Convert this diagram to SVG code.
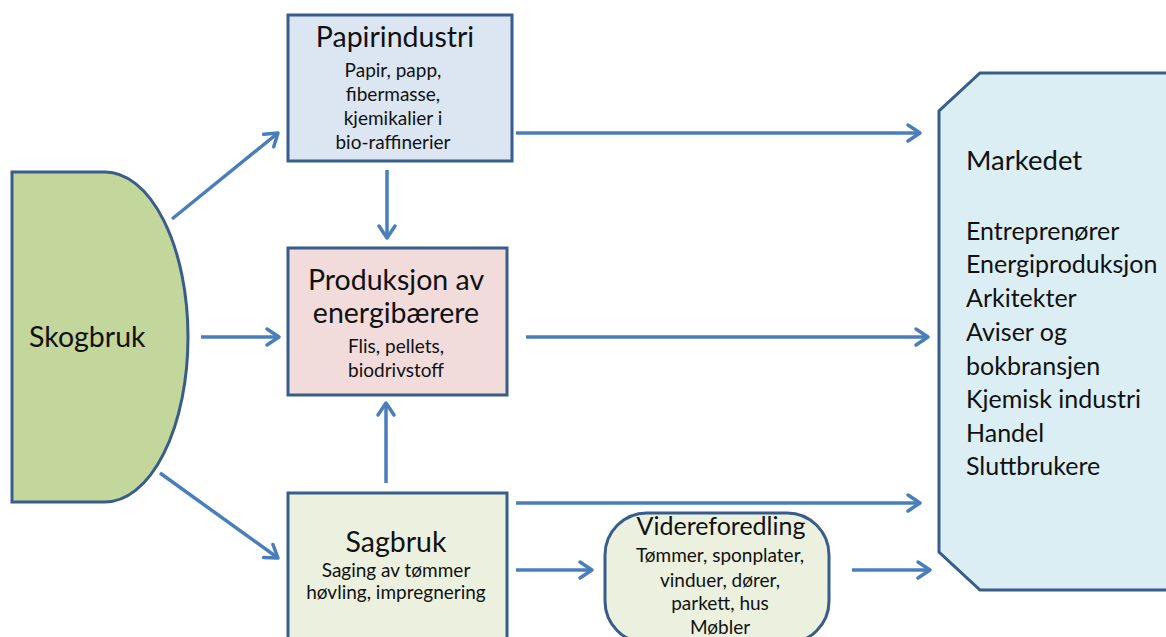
<svg xmlns="http://www.w3.org/2000/svg" width="1166" height="637" viewBox="0 0 1166 637">
<style>
.node{stroke:#385d8a;stroke-width:3}
.t{font-family:Lato,"Liberation Sans",sans-serif;fill:#111}
.big{font-size:28.5px}
.vid{font-size:25px}
.small{font-size:19px}
.mk{font-size:25px}
.mt{font-size:27.5px}
.c{text-anchor:middle}
.conn line{stroke:#4a7ebb;stroke-width:3.5;marker-end:url(#ah)}
</style>
<defs>
<marker id="ah" markerUnits="userSpaceOnUse" markerWidth="24" markerHeight="24" viewBox="-18 -12 24 24" refX="0" refY="0" orient="auto">
<path d="M-12,-8 L0,0 L-12,8" fill="none" stroke="#4a7ebb" stroke-width="3.5" stroke-linecap="round" stroke-linejoin="round"/>
</marker>
</defs>
<rect width="1166" height="637" fill="#fff"/>
<g id="skogbruk">
<path class="node" d="M12,172 L105,172 A83,165 0 0 1 105,502 L12,502 Z" fill="#c3d69b"/>
<text class="t big" x="29" y="347">Skogbruk</text>
</g>
<g id="papirindustri">
<rect class="node" x="288" y="15" width="224" height="146" fill="#dce6f2"/>
<text class="t big c" x="395" y="47">Papirindustri</text>
<text class="t small c" x="393" y="77">Papir, papp,</text>
<text class="t small c" x="393" y="101">fibermasse,</text>
<text class="t small c" x="393" y="125">kjemikalier i</text>
<text class="t small c" x="393" y="149">bio-raffinerier</text>
</g>
<g id="produksjon">
<rect class="node" x="288" y="248" width="219" height="147" fill="#f2dcdb"/>
<text class="t big c" x="396" y="290">Produksjon av</text>
<text class="t big c" x="396" y="323">energibærere</text>
<text class="t small c" x="396" y="353">Flis, pellets,</text>
<text class="t small c" x="396" y="377">biodrivstoff</text>
</g>
<g id="sagbruk">
<rect class="node" x="288" y="493" width="219" height="160" fill="#ebf1de"/>
<text class="t big c" x="396" y="552">Sagbruk</text>
<text class="t small c" x="396" y="577">Saging av tømmer</text>
<text class="t small c" x="396" y="599">høvling, impregnering</text>
</g>
<g id="videreforedling">
<rect class="node" x="605" y="513" width="224" height="130" rx="42" ry="42" fill="#ebf1de"/>
<text class="t vid c" x="721" y="535">Videreforedling</text>
<text class="t small c" x="720" y="562">Tømmer, sponplater,</text>
<text class="t small c" x="720" y="587">vinduer, dører,</text>
<text class="t small c" x="720" y="610">parkett, hus</text>
<text class="t small c" x="720" y="634">Møbler</text>
</g>
<g id="markedet">
<path class="node" d="M980,73 L1172,73 L1172,590 L980,590 L939,552 L939,111 Z" fill="#dbeef4"/>
<text class="t mt" x="966" y="170">Markedet</text>
<text class="t mk" x="966" y="240">Entreprenører</text>
<text class="t mk" x="966" y="273">Energiproduksjon</text>
<text class="t mk" x="966" y="307">Arkitekter</text>
<text class="t mk" x="966" y="341">Aviser og</text>
<text class="t mk" x="966" y="375">bokbransjen</text>
<text class="t mk" x="966" y="408">Kjemisk industri</text>
<text class="t mk" x="966" y="442">Handel</text>
<text class="t mk" x="966" y="475">Sluttbrukere</text>
</g>
<g id="connectors" class="conn">
<line x1="172" y1="219" x2="278" y2="133"/>
<line x1="516" y1="133" x2="920" y2="133"/>
<line x1="387" y1="170" x2="387" y2="238"/>
<line x1="201" y1="337" x2="279" y2="337"/>
<line x1="526" y1="337" x2="928" y2="337"/>
<line x1="386" y1="483" x2="386" y2="403"/>
<line x1="160" y1="473" x2="278" y2="558"/>
<line x1="516" y1="503" x2="920" y2="503"/>
<line x1="516" y1="570" x2="592" y2="570"/>
<line x1="852" y1="570" x2="930" y2="570"/>
</g>
</svg>
